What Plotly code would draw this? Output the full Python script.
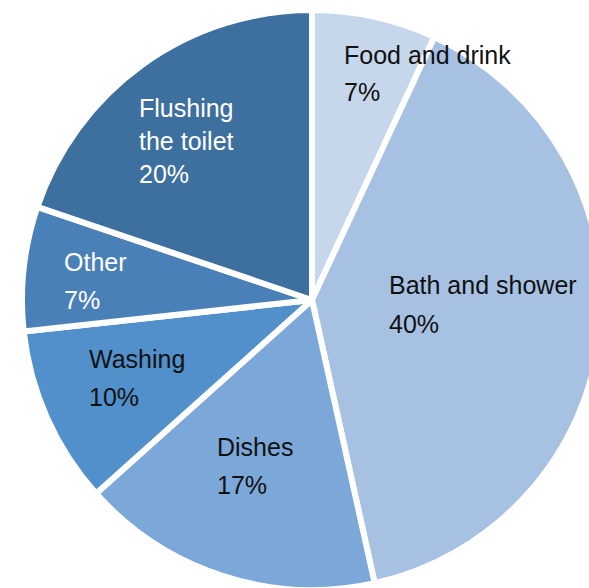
import plotly.graph_objects as go

# ---- data ----
labels = ["Food and drink", "Bath and shower", "Dishes", "Washing", "Other", "Flushing the toilet"]
label_text = ["Food and drink", "Bath and shower", "Dishes", "Washing", "Other", "Flushing<br>the toilet"]
values = [7, 40, 17, 10, 7, 20]
percent_text = ["7%", "40%", "17%", "10%", "7%", "20%"]

# ---- styles ----
colors = ["#c6d7ec", "#a7c1e3", "#7ba8d8", "#5190ca", "#4a80b8", "#3d6f9f"]
text_colors = ["#111111", "#111111", "#111111", "#111111", "#ffffff", "#ffffff"]
W, H = 624, 600
CX, CY, R = 312, 300, 290
FS = 25
FONT = "Liberation Sans, Arial, sans-serif"

# label placement: (left x, baseline of first label line, baseline of percent line) in pixels
label_pos = [(343, 63, 100), (388, 293, 332), (216, 455, 493), (88, 367, 405), (63, 270, 308), (138, 116, 182)]

fig = go.Figure(go.Pie(
    labels=labels,
    values=values,
    sort=False,
    direction="clockwise",
    rotation=0,
    textinfo="none",
    hovertemplate="%{label}: %{value}%<extra></extra>",
    marker=dict(colors=colors, line=dict(color="white", width=6)),
    domain=dict(x=[(CX - R) / W, (CX + R) / W], y=[1 - (CY + R) / H, 1 - (CY - R) / H]),
    showlegend=False,
))


def ann(text, px, baseline, color):
    # anchor the top of the text box at the first line's ascent
    ytop = baseline - 0.93 * FS
    fig.add_annotation(
        x=px / W, y=1 - ytop / H, xref="paper", yref="paper",
        text=text, showarrow=False, xanchor="left", yanchor="top",
        align="left", borderpad=0,
        font=dict(family=FONT, size=FS, color=color),
    )


for txt, pct, (lx, ly, py), tc in zip(label_text, percent_text, label_pos, text_colors):
    ann(txt, lx, ly, tc)
    ann(pct, lx, py, tc)

fig.update_layout(
    width=W, height=H,
    margin=dict(l=0, r=0, t=0, b=0),
    paper_bgcolor="white", plot_bgcolor="white",
)

fig.write_html(
    "out.html",
    config={"displayModeBar": False},
    post_script="document.body.style.margin='0';document.body.style.overflow='hidden';",
)
